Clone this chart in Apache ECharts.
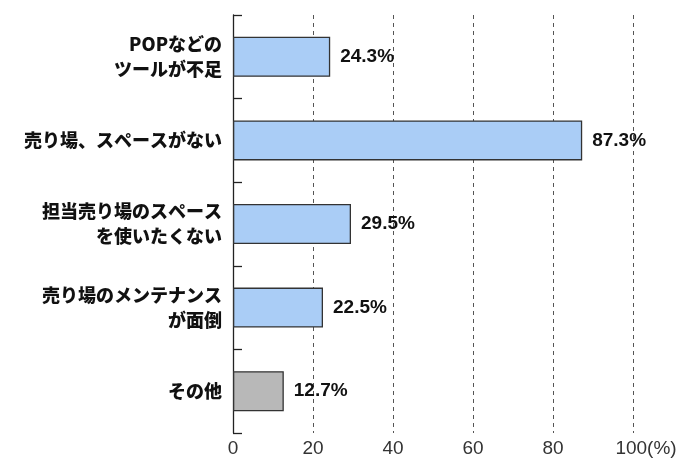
<!DOCTYPE html>
<html><head><meta charset="utf-8">
<script src="https://cdn.jsdelivr.net/npm/echarts@6/dist/echarts.min.js"></script>
<style>html,body{margin:0;padding:0;background:#fff}#c{width:700px;height:463px}</style>
</head><body><div id="c"></div>
<script>
const categories = ['POPなどの\nツールが不足', '売り場、スペースがない', '担当売り場のスペース\nを使いたくない', '売り場のメンテナンス\nが面倒', 'その他'];
const values = [24.3, 87.3, 29.5, 22.5, 12.7];
const barColors = ['#aacdf6', '#aacdf6', '#aacdf6', '#aacdf6', '#b8b8b8'];
const xTicks = [0, 20, 40, 60, 80, 100];

const chart = echarts.init(document.getElementById('c'));
chart.setOption({
  backgroundColor: '#fff',
  animation: false,
  grid: {left: 233, right: 67, top: 15, bottom: 30, containLabel: false},
  xAxis: {
    type: 'value', min: 0, max: 100, interval: 20,
    axisLine: {show: false}, axisTick: {show: false},
    splitLine: {show: true, lineStyle: {type: [4, 4], color: '#555', width: 1}},
    axisLabel: {
      color: '#333', fontSize: 19, fontFamily: 'Liberation Sans, Arial, sans-serif', margin: 6,
      formatter: v => xTicks.indexOf(v) < 0 ? '' : (v === 100 ? '{p|}' + v + '(%)' : String(v)),
      rich: {p: {width: 26}}
    }
  },
  yAxis: {
    type: 'category', data: categories, inverse: true,
    axisLine: {show: true, lineStyle: {color: '#222', width: 1.3}},
    axisTick: {show: true, inside: true, length: 9, lineStyle: {color: '#222', width: 1.3}},
    axisLabel: {
      color: '#111', fontSize: 18, fontWeight: 900, lineHeight: 25, align: 'right', margin: 11,
      fontFamily: 'Noto Sans CJK JP, sans-serif'
    }
  },
  series: [{
    type: 'bar', barWidth: 40,
    data: values.map((v, i) => ({value: v, itemStyle: {color: barColors[i]}})),
    itemStyle: {borderColor: '#333', borderWidth: 1.3},
    label: {
      show: true, position: 'right', distance: 10, formatter: '{c}%',
      color: '#111', fontSize: 19, fontWeight: 'bold', fontFamily: 'Liberation Sans, Arial, sans-serif'
    }
  }]
});
</script></body></html>
